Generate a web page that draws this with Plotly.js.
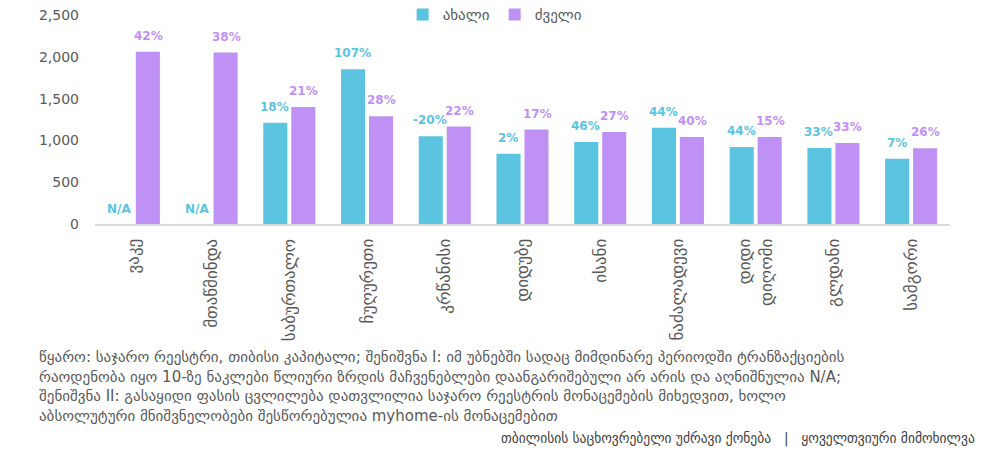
<!DOCTYPE html>
<html><head><meta charset="utf-8">
<script src="https://cdn.plot.ly/plotly-3.0.1.min.js"></script>
<style>html,body{margin:0;padding:0;background:#fff}#chart{width:991px;height:468px}</style>
</head><body><div id="chart"></div>
<script>
const categories = ["ვაკე","მთაწმინდა","საბურთალო","ჩუღურეთი","კრწანისი","დიდუბე","ისანი","ნაძალადევი","დიდი<br>დიღომი","გლდანი","სამგორი"];
const newValues = [null,null,1210,1850,1050,840,980,1150,920,910,780];
const oldValues = [2060,2050,1400,1290,1165,1130,1100,1040,1040,970,905];
const newPct = [null,null,18,107,-20,2,46,44,44,33,7];
const oldPct = [42,38,21,28,22,17,27,40,15,33,26];
const seriesNames = ["ახალი","ძველი"];
const yTicks = [0,500,1000,1500,2000,2500];
const footnote = ["წყარო: საჯარო რეესტრი, თიბისი კაპიტალი; შენიშვნა I: იმ უბნებში სადაც მიმდინარე პერიოდში ტრანზაქციების",
"რაოდენობა იყო 10-ზე ნაკლები წლიური ზრდის მაჩვენებლები დაანგარიშებული არ არის და აღნიშნულია N/A;",
"შენიშვნა II: გასაყიდი ფასის ცვლილება დათვლილია საჯარო რეესტრის მონაცემების მიხედვით, ხოლო",
"აბსოლუტური მნიშვნელობები შესწორებულია myhome-ის მონაცემებით"];
const sourceText = "თბილისის საცხოვრებელი უძრავი ქონება   |   ყოველთვიური მიმოხილვა";

const cNew = "#5bc4e0", cOld = "#bf91f5";
const font = "DejaVu Sans, Noto Sans, sans-serif";

const traces = [
  {type:"bar", name:seriesNames[0], x:categories, y:newValues, marker:{color:cNew}, hoverinfo:"none"},
  {type:"bar", name:seriesNames[1], x:categories, y:oldValues, marker:{color:cOld}, hoverinfo:"none"}
];

const ann = [];
const off = 14.5;
categories.forEach((c,i)=>{
  ann.push({x:c, y:newValues[i]==null?0:newValues[i], xref:"x", yref:"y", xshift:-off, yshift:newValues[i]==null?6:7,
    yanchor:"bottom", showarrow:false, text:newPct[i]==null?"N/A":(newPct[i]+"%"),
    font:{family:font, size:12, color:cNew, weight:"bold"}});
  ann.push({x:c, y:oldValues[i], xref:"x", yref:"y", xshift:off, yshift:7,
    yanchor:"bottom", showarrow:false, text:oldPct[i]+"%",
    font:{family:font, size:12, color:cOld, weight:"bold"}});
});
ann.push({xref:"paper", yref:"paper", x:-0.068, y:-0.582, xanchor:"left", yanchor:"top", align:"left", showarrow:false,
  text:footnote.join("<br>"), font:{family:font, size:15, color:"#595959"}});
ann.push({xref:"paper", yref:"paper", x:1.032, y:-1.024, xanchor:"right", yanchor:"middle", showarrow:false,
  text:sourceText, font:{family:font, size:13.5, color:"#404040"}});

const layout = {
  width:991, height:468,
  margin:{l:95, r:41, t:15, b:244, autoexpand:false},
  paper_bgcolor:"#fff", plot_bgcolor:"#fff",
  font:{family:font, color:"#595959"},
  barmode:"group", bargap:0.28, bargroupgap:0.14,
  showlegend:true,
  legend:{orientation:"h", x:0.468, xanchor:"center", y:1.08, yanchor:"top", font:{size:15, color:"#595959"},
    itemwidth:30, tracegroupgap:0},
  xaxis:{type:"category", tickangle:-90, showline:true, linecolor:"#d9d9d9", linewidth:2, ticks:"",
    tickfont:{size:17, color:"#595959"}, showgrid:false, fixedrange:true, ticklabelstandoff:6},
  yaxis:{range:[0,2500], tickvals:yTicks, tickformat:",d", showgrid:false, zeroline:false, showline:false,
    tickfont:{size:14, color:"#595959"}, ticklabelstandoff:15, fixedrange:true},
  annotations:ann
};
Plotly.newPlot("chart", traces, layout, {displayModeBar:false, staticPlot:true});
</script></body></html>
